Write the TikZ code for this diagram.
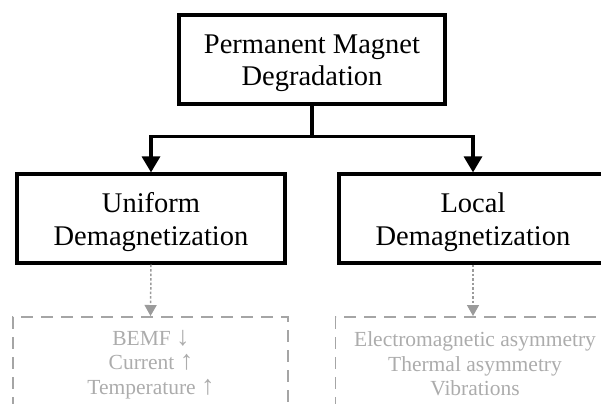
\documentclass[tikz,border=0pt]{standalone}
\usepackage{fontspec}
\setmainfont{Liberation Serif}
\usetikzlibrary{arrows.meta}
\definecolor{lgtext}{RGB}{172,172,172}
\definecolor{lgline}{RGB}{165,165,165}
\definecolor{lgarrow}{RGB}{155,155,155}
\newcommand{\bigarr}[1]{{\fontsize{27bp}{24.5bp}\selectfont #1}}
\tikzset{
  mainbox/.style={draw=black, line width=3.2bp, minimum width=266bp, minimum height=89bp, inner sep=0pt},
  maintext/.style={align=center, inner sep=0pt, font=\fontsize{28.5bp}{32.5bp}\selectfont},
  subbox/.style={draw=lgline, line width=1.5bp, dash pattern=on 12bp off 8bp, minimum width=275bp, minimum height=130bp, inner sep=0pt},
  subtext/.style={align=center, inner sep=0pt, text=lgtext, font=\fontsize{21.5bp}{24.5bp}\selectfont},
  conn/.style={draw=black, line width=3.2bp, -{Triangle[length=16bp,width=18bp]}},
  dotconn/.style={draw=lgarrow, line width=1.5bp, dash pattern=on 2.5bp off 2bp, -{Triangle[length=11bp,width=12bp]}},
}
\begin{document}
\begin{tikzpicture}[x=1bp,y=-1bp]
\useasboundingbox (0,0) rectangle (601,403);
\clip (0,0) rectangle (601,403);
% main boxes
\node[mainbox] (top) at (312,59.5) {};
\node[maintext] (toptext) at (312,63) {Permanent Magnet\\Degradation};
\node[mainbox, minimum width=268bp] (uni) at (151,218.5) {};
\node[maintext] (unitext) at (151,222) {Uniform\\Demagnetization};
\node[mainbox, minimum width=268bp] (loc) at (473,218.5) {};
\node[maintext] (loctext) at (473,222) {Local\\Demagnetization};
% dashed boxes
\node[subbox, anchor=north] (unisub) at (150.5,316) {};
\node[subtext, anchor=north] (unisubtext) at (151,330) {BEMF \bigarr{↓}\\Current \bigarr{↑}\\Temperature \bigarr{↑}};
\node[subbox, anchor=north] (locsub) at (473,316) {};
\node[subtext, anchor=north] (locsubtext) at (475,331.5) {Electromagnetic asymmetry\\Thermal asymmetry\\Vibrations};
% connectors
\coordinate (junc) at ([yshift=-31bp]top.south);
\draw[conn] (top.south) -- (junc) -| (uni.north);
\draw[conn] (junc) -| (loc.north);
\draw[dotconn] (uni.south) -- (unisub.north);
\draw[dotconn] (loc.south) -- (locsub.north);
\end{tikzpicture}
\end{document}
